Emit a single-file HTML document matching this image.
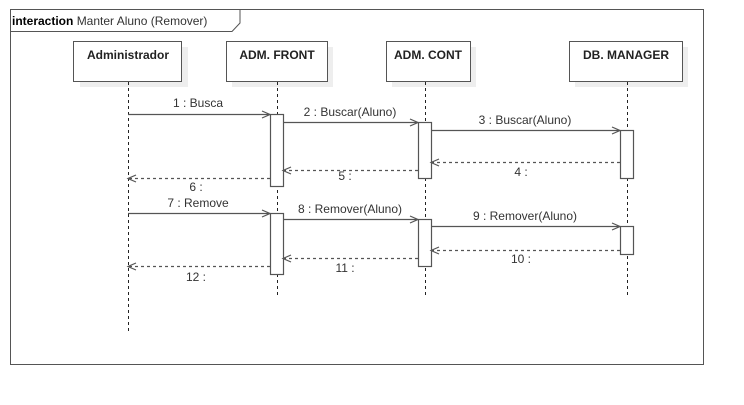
<!DOCTYPE html>
<html><head><style>html,body{margin:0;padding:0;background:#fff}svg{display:block}</style></head><body>
<svg width="744" height="405" viewBox="0 0 744 405" xmlns="http://www.w3.org/2000/svg" font-family="Liberation Sans, sans-serif" font-size="12">
<rect x="0" y="0" width="744" height="405" fill="#fff"/>
<rect x="10.5" y="9.5" width="693" height="355" fill="none" stroke="#555"/>
<path d="M10.5 31.5 H232 L240 23 V9.5" fill="none" stroke="#555"/>
<text x="12" y="25" fill="#000"><tspan font-weight="bold">interaction</tspan> <tspan fill="#333">Manter Aluno (Remover)</tspan></text>
<g fill="#eee"><rect x="80" y="47" width="108" height="40"/><rect x="232" y="47" width="101" height="40"/><rect x="392" y="47" width="84" height="40"/><rect x="575" y="47" width="113" height="40"/></g>
<g fill="#fff" stroke="#555"><rect x="73.5" y="41.5" width="108" height="40"/><rect x="226.5" y="41.5" width="101" height="40"/><rect x="386.5" y="41.5" width="84" height="40"/><rect x="569.5" y="41.5" width="113" height="40"/></g>
<g font-weight="bold" text-anchor="middle" fill="#222"><text x="128" y="59">Administrador</text><text x="277" y="59">ADM. FRONT</text><text x="428" y="59">ADM. CONT</text><text x="626" y="59">DB. MANAGER</text></g>
<g stroke="#222" stroke-dasharray="3,3"><line x1="128.5" y1="82" x2="128.5" y2="332"/><line x1="277.5" y1="82" x2="277.5" y2="296"/><line x1="425.5" y1="82" x2="425.5" y2="296"/><line x1="627.5" y1="82" x2="627.5" y2="296"/></g>
<g fill="#fff" stroke="#555" stroke-width="1.2"><rect x="270.5" y="114.5" width="13" height="72"/><rect x="418.5" y="122.5" width="13" height="56"/><rect x="620.5" y="130.5" width="13" height="48"/><rect x="270.5" y="213.5" width="13" height="61"/><rect x="418.5" y="219.5" width="13" height="47"/><rect x="620.5" y="226.5" width="13" height="28"/></g>
<g stroke="#555" fill="none" stroke-width="1.2">
<path d="M128 114.5H270 M262 111l8 3.5-8 3.5"/>
<path d="M283 122.5H418 M410 119l8 3.5-8 3.5"/>
<path d="M431 130.5H620 M612 127l8 3.5-8 3.5"/>
<path d="M128 213.5H270 M262 210l8 3.5-8 3.5"/>
<path d="M283 219.5H418 M410 216l8 3.5-8 3.5"/>
<path d="M431 226.5H620 M612 223l8 3.5-8 3.5"/>
<g stroke-dasharray="3,3"><path d="M620 162.5H431"/><path d="M418 170.5H283"/><path d="M270 178.5H128"/><path d="M620 250.5H431"/><path d="M418 258.5H283"/><path d="M270 266.5H128"/></g>
<path d="M439 159l-8 3.5 8 3.5 M291 167l-8 3.5 8 3.5 M136 175l-8 3.5 8 3.5 M439 247l-8 3.5 8 3.5 M291 255l-8 3.5 8 3.5 M136 263l-8 3.5 8 3.5"/>
</g>
<g fill="#333" text-anchor="middle">
<text x="198" y="107">1 : Busca</text><text x="350" y="116">2 : Buscar(Aluno)</text><text x="525" y="124">3 : Buscar(Aluno)</text>
<text x="521" y="176">4 :</text><text x="345" y="180">5 :</text><text x="196" y="191">6 :</text>
<text x="198" y="207">7 : Remove</text><text x="350" y="213">8 : Remover(Aluno)</text><text x="525" y="220">9 : Remover(Aluno)</text>
<text x="521" y="263">10 :</text><text x="345" y="272">11 :</text><text x="196" y="281">12 :</text>
</g>
</svg>
</body></html>
